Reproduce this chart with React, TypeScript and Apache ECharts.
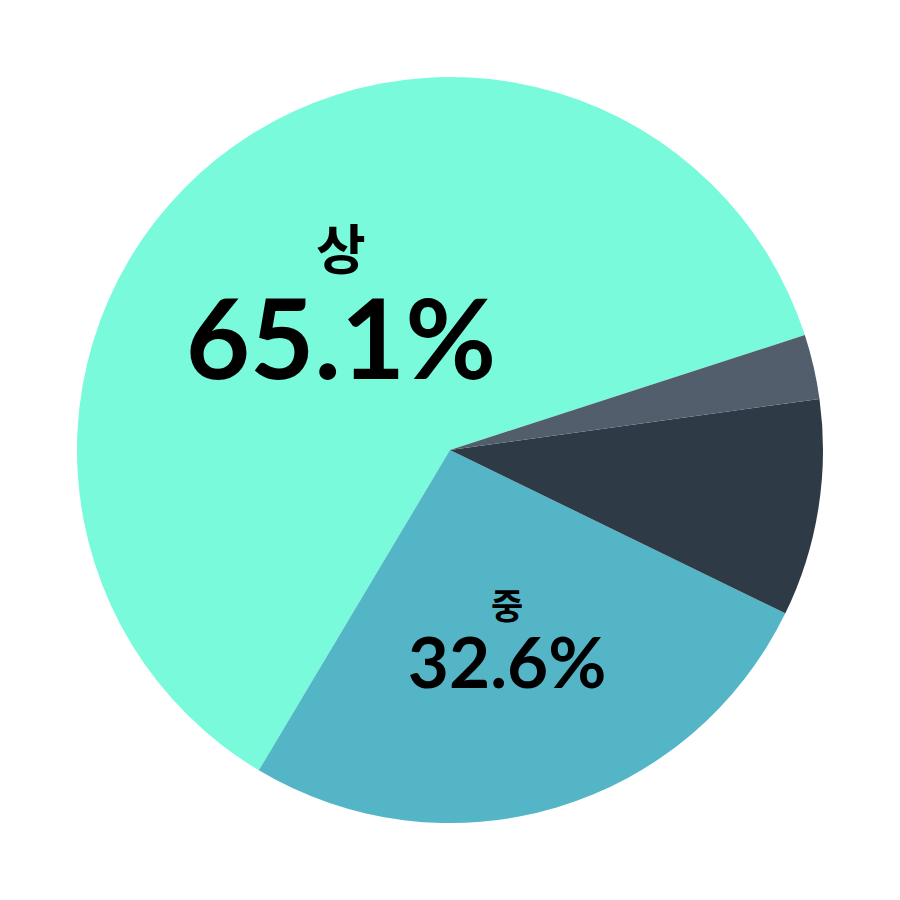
import React, { useEffect, useRef } from 'react';
import * as echarts from 'echarts';

const categories = ['상', '중', '하', '기타'];
const sliceValues = [61.45, 26.35, 9.4, 2.8];
const labelPercents = ['65.1%', '32.6%', '', ''];
const sliceColors = ['#79FADB', '#54B5C7', '#2E3A46', '#525E6B'];
// label scale for each slice (relative to the big one), 0 = no label
const labelScale = [1, 0.64, 0, 0];
// [top, right, bottom, left] nudges for the label blocks
const labelPadding = [
    [0, 0, 0, 18],
    [14, 0, 0, 6],
    [0, 0, 0, 0],
    [0, 0, 0, 0],
];

const App: React.FC = () => {
    const chartRef = useRef<HTMLDivElement>(null);

    useEffect(() => {
        if (!chartRef.current) return;
        const chart = echarts.init(chartRef.current, undefined, { renderer: 'svg' });

        const data = categories.map((name, i) => {
            const s = labelScale[i];
            return {
                name,
                value: sliceValues[i],
                itemStyle: { color: sliceColors[i] },
                label: s
                    ? {
                          show: true,
                          position: 'inside',
                          padding: labelPadding[i],
                          formatter: `{n|${name}}\n{v|${labelPercents[i]}}`,
                          rich: {
                              n: {
                                  fontSize: Math.round(54 * s),
                                  fontWeight: 'bold',
                                  fontFamily: 'Noto Sans CJK KR',
                                  color: '#000',
                                  lineHeight: Math.round(68 * s),
                              },
                              v: {
                                  fontSize: Math.round(111 * s),
                                  fontWeight: 'bold',
                                  fontFamily: 'Lato',
                                  color: '#000',
                                  lineHeight: Math.round(110 * s),
                              },
                          },
                      }
                    : { show: false },
            };
        });

        chart.setOption({
            animation: false,
            series: [
                {
                    type: 'pie',
                    center: ['50%', '50%'],
                    radius: 373,
                    startAngle: 17.95,
                    clockwise: false,
                    silent: true,
                    labelLine: { show: false },
                    itemStyle: { borderWidth: 0 },
                    data,
                },
            ],
        });

        return () => chart.dispose();
    }, []);

    return (
        <div
            ref={chartRef}
            style={{ position: 'fixed', left: 0, top: 0, width: 900, height: 900, background: '#fff' }}
        />
    );
};

export default App;
